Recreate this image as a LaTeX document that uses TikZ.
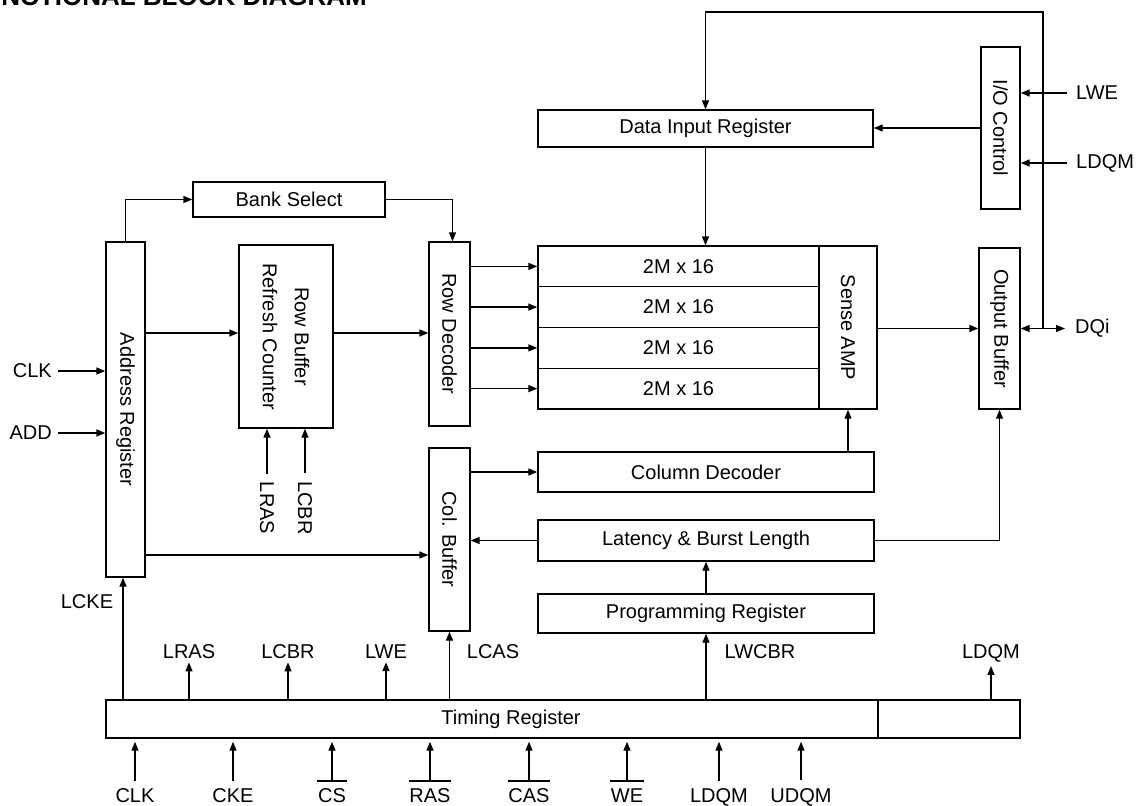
\documentclass[tikz,border=0pt]{standalone}
\usepackage{fontspec}
\setmainfont{Liberation Sans}
\usetikzlibrary{arrows.meta,calc}
\begin{document}
\begin{tikzpicture}[x=1pt,y=-1pt,
  every node/.style={font=\fontsize{20}{24}\selectfont},
  box/.style={draw, line width=1.4pt, inner sep=0pt, align=center},
  vbox/.style={box, rotate=-90},
  lab/.style={inner sep=0pt},
  arr/.style={line width=1.4pt, -{Triangle[length=9pt,width=7pt]}},
  darr/.style={line width=1.4pt, {Triangle[length=9pt,width=7pt]}-{Triangle[length=9pt,width=7pt]}},
  blab/.style={lab, anchor=base, inner ysep=7pt, inner xsep=0.5pt},
  tlab/.style={lab, anchor=base, inner ysep=4pt},
  ovl/.style={line width=1.8pt}]
\useasboundingbox (0,0) rectangle (1139,805);

% title (partly outside the frame, as in the reference)
\node[lab, anchor=base east, font=\bfseries\fontsize{26}{30}\selectfont] (title) at (367,6) {NCTIONAL BLOCK DIAGRAM};

% boxes (vertical boxes are rotated -90: north=right, south=left, west=top, east=bottom)
\node[vbox, minimum width=162pt, minimum height=39pt] (IOC) at (1000.5,128) {I/O Control};
\node[box, minimum width=335pt, minimum height=37pt] (DIR) at (705.5,128.5) {Data Input Register};
\node[box, minimum width=192pt, minimum height=35pt] (BS) at (289,199.5) {Bank Select};
\node[vbox, minimum width=335pt, minimum height=39pt] (AR) at (125.5,409.5) {Address Register};
\node[vbox, minimum width=183pt, minimum height=94pt, font=\fontsize{20}{32}\selectfont] (RBRC) at (286,336.5) {Row Buffer\\Refresh Counter};
\node[vbox, minimum width=184pt, minimum height=41pt] (RD) at (449.5,334) {Row Decoder};
\node[box, minimum width=281pt, minimum height=40.75pt] (R1) at (678.5,266.4) {2M x 16};
\node[box, minimum width=281pt, minimum height=40.75pt] (R2) at (678.5,307.1) {2M x 16};
\node[box, minimum width=281pt, minimum height=40.75pt] (R3) at (678.5,347.9) {2M x 16};
\node[box, minimum width=281pt, minimum height=40.75pt] (R4) at (678.5,388.6) {2M x 16};
\node[vbox, minimum width=163pt, minimum height=58pt] (SA) at (848,327.5) {Sense AMP};
\node[vbox, minimum width=161pt, minimum height=41pt] (OB) at (999.5,328.5) {Output Buffer};
\node[vbox, minimum width=183pt, minimum height=41pt] (CB) at (449.5,539.5) {Col. Buffer};
\node[box, minimum width=336pt, minimum height=40pt] (CD) at (706,472) {Column Decoder};
\node[box, minimum width=336pt, minimum height=41pt] (LBL) at (706,540.5) {Latency \& Burst Length};
\node[box, minimum width=336pt, minimum height=39pt] (PR) at (706,613.5) {Programming Register};
\node[box, minimum width=772pt, minimum height=38pt] (TR) at (492,719) {\hspace*{38pt}Timing Register};
\node[box, minimum width=142pt, minimum height=38pt] (TR2) at (949,719) {};

% side labels
\node[lab, anchor=east, inner xsep=6pt] (CLKl) at (58,371) {CLK};
\node[lab, anchor=east, inner xsep=6pt] (ADDl) at (58,433) {ADD};
\node[lab, anchor=west, inner xsep=9pt] (LWEl) at (1067,93) {LWE};
\node[lab, anchor=west, inner xsep=9pt] (LDQMl) at (1067,163) {LDQM};
\node[lab, anchor=west, inner xsep=10pt] (DQi) at (1065,328.5) {DQi};
\node[lab, rotate=-90, inner xsep=8pt] (LRASv) at (267,508) {LRAS};
\node[lab, rotate=-90, inner xsep=8pt] (LCBRv) at (305,508) {LCBR};

% timing register outputs labels
\node[lab, anchor=base] (LCKEt) at (87,608) {LCKE};
\node[tlab] (LRASt) at (189,658) {LRAS};
\node[tlab] (LCBRt) at (288,658) {LCBR};
\node[tlab] (LWEt) at (386,658) {LWE};
\node[lab, anchor=base] (LCASt) at (493,658) {LCAS};
\node[lab, anchor=base] (LWCBRt) at (760,658) {LWCBR};
\node[tlab] (LDQMt) at (991,658) {LDQM};

% timing register inputs labels
\node[blab] (CLKb) at (135,802) {CLK};
\node[blab] (CKEb) at (233,802) {CKE};
\node[blab] (CSb) at (332,802) {CS};
\node[blab] (RASb) at (430,802) {RAS};
\node[blab] (CASb) at (529,802) {CAS};
\node[blab] (WEb) at (627,802) {WE};
\node[blab] (LDQMb) at (719,802) {LDQM};
\node[blab, inner ysep=8pt] (UDQMb) at (801,802.5) {UDQM};
\foreach \n in {CSb,RASb,CASb,WEb} \draw[ovl] (\n.north west) -- (\n.north east);

% coordinates
\coordinate (jn) at (1043,328.5);
\coordinate (tp) at (705.5,12);
\coordinate (bsx) at (452.5,0);
\coordinate (p1) at (0,333);
\coordinate (ar2) at (0,555);
\coordinate (xLCKE) at (123,0);
\coordinate (xOB) at (999.5,0);

% connectors
\draw[arr] (jn) |- (tp) -- (DIR.north);
\draw[arr] (IOC.south) -- (IOC.south -| DIR.east);
\draw[arr] (LWEl.west) -- (LWEl.west -| IOC.north);
\draw[arr] (LDQMl.west) -- (LDQMl.west -| IOC.north);
\draw[arr] (DIR.south) -- (DIR.south |- R1.north);
\draw[arr] (AR.west) |- (BS.west);
\draw[arr] (BS.east) -| (bsx |- RD.west);
\draw[arr] (p1 -| AR.north) -- (p1 -| RBRC.south);
\draw[arr] (p1 -| RBRC.north) -- (p1 -| RD.south);
\draw[arr] (CLKl.east) -- (CLKl.east -| AR.south);
\draw[arr] (ADDl.east) -- (ADDl.east -| AR.south);
\draw[arr] (LRASv.west) -- (LRASv.west |- RBRC.east);
\draw[arr] (LCBRv.west) -- (LCBRv.west |- RBRC.east);
\foreach \r in {R1,R2,R3,R4} \draw[arr] (\r.west -| RD.north) -- (\r.west);
\draw[arr] (OB.south -| SA.north) -- (OB.south);
\draw[darr] (OB.north) -- (DQi.west);
\draw[arr] (SA.east |- CD.north) -- (SA.east);
\draw[arr] (CB.north |- CD.west) -- (CD.west);
\draw[arr] (LBL.west) -- (LBL.west -| CB.north);
\draw[arr] (LBL.east) -| (xOB |- OB.east);
\draw[arr] (ar2 -| AR.north) -- (ar2 -| CB.south);
\draw[arr] (PR.north) -- (LBL.south);
\draw[arr] (TR.north -| xLCKE) -- (AR.east -| xLCKE);
\foreach \n in {LRASt,LCBRt,LWEt} \draw[arr] (TR.north -| \n.south) -- (\n.south);
\draw[arr] (TR2.north -| LDQMt.south) -- (LDQMt.south);
\draw[arr] (TR.north -| CB.east) -- (CB.east);
\draw[arr] (TR.north -| PR.south) -- (PR.south);
\foreach \n in {CLKb,CKEb,CSb,RASb,CASb,WEb,LDQMb,UDQMb} \draw[arr, shorten >=3pt] (\n.north) -- (\n.north |- TR.south);
\end{tikzpicture}
\end{document}
